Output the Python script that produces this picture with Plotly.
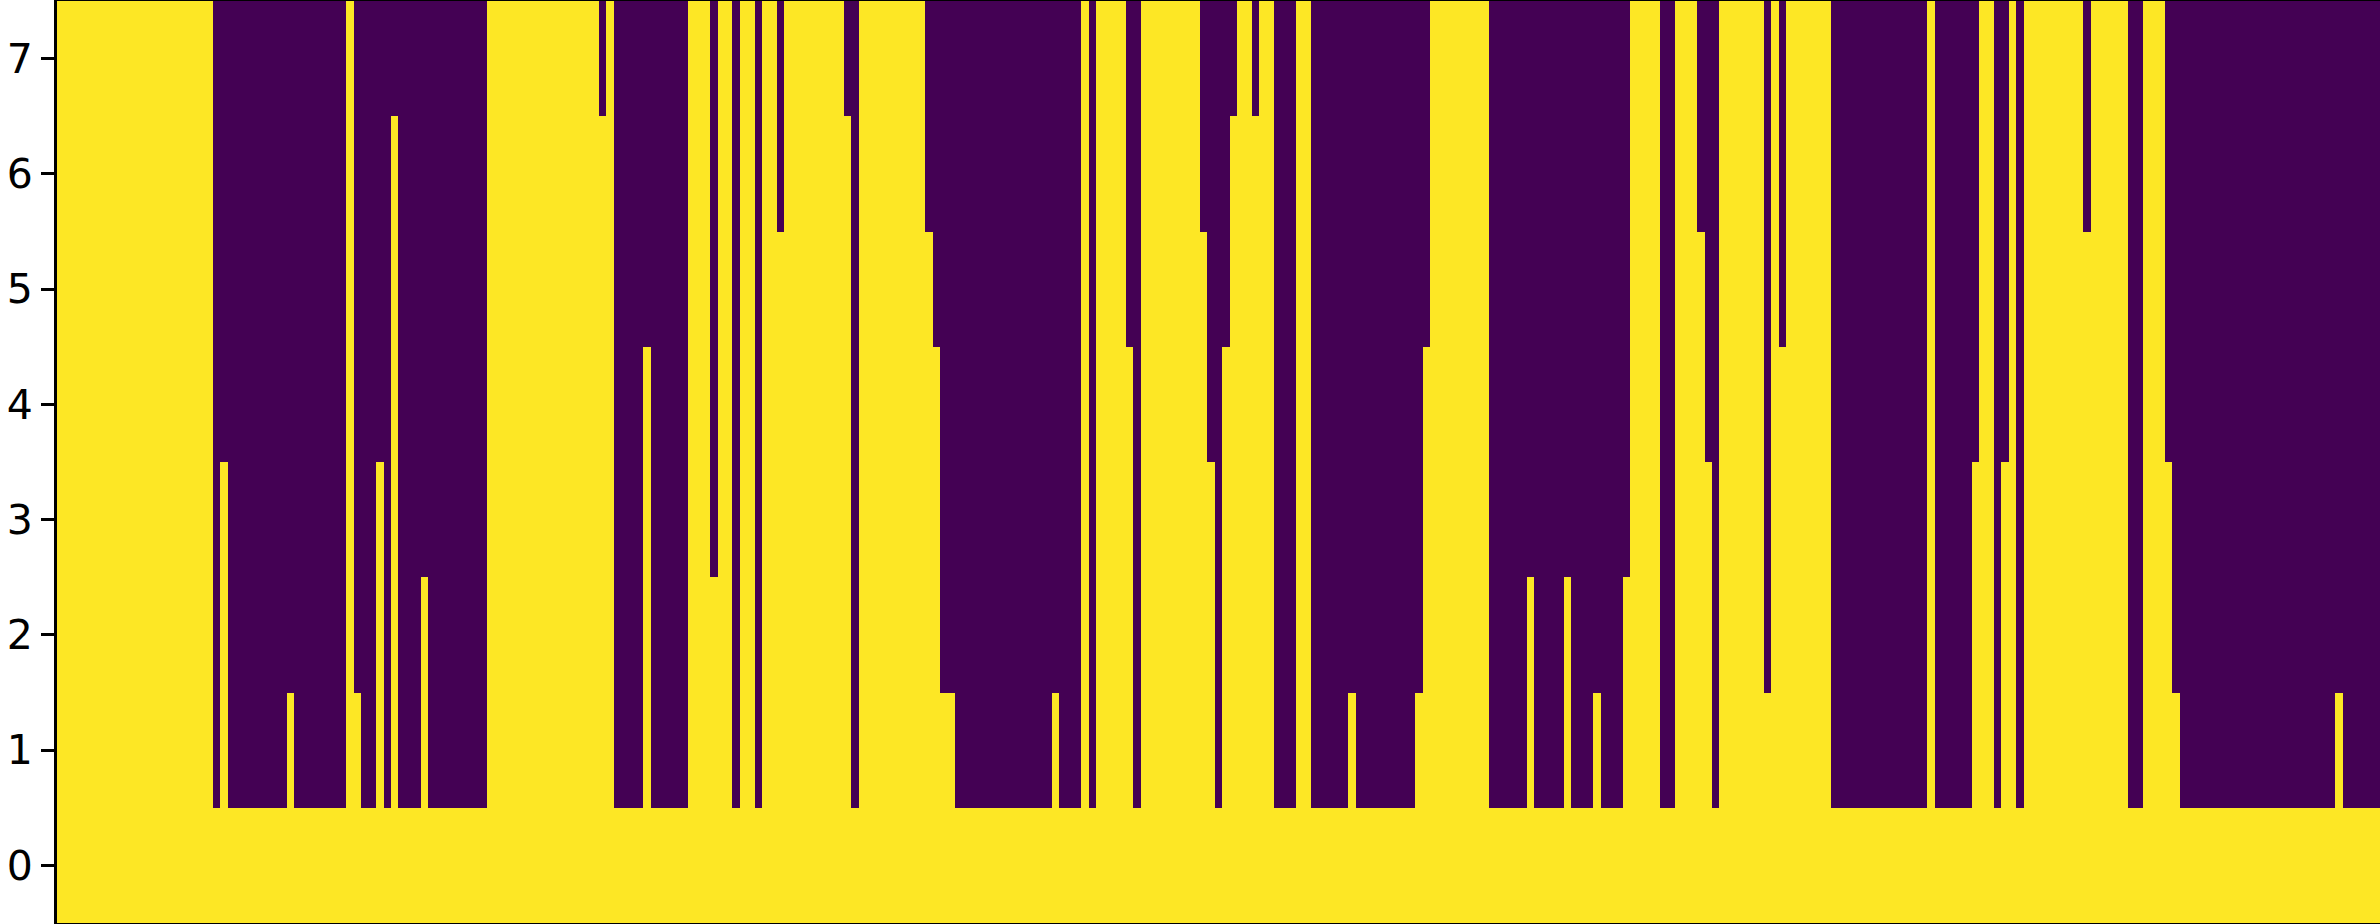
import plotly.graph_objects as go

column_heights = [
    8,8,8,8,8,8,8,8,8,8,8,8,8,8,8,8,8,8,8,8,8,
    1,4,1,1,1,1,1,1,1,1,2,1,1,1,1,1,1,1,8,2,1,1,4,1,7,1,1,1,3,
    1,1,1,1,1,1,1,1,
    8,8,8,8,8,8,8,8,8,8,8,8,8,8,8,7,8,
    1,1,1,1,5,1,1,1,1,1,
    8,8,8,3,8,8,1,8,8,1,8,8,6,8,8,8,8,8,8,8,8,7,1,
    8,8,8,8,8,8,8,8,8,6,5,2,2,
    1,1,1,1,1,1,1,1,1,1,1,1,1,2,1,1,1,8,1,
    8,8,8,8,5,1,8,8,8,8,8,8,8,8,6,4,1,5,7,8,8,7,8,8,
    1,1,1,8,8,1,1,1,1,1,2,1,1,1,1,1,1,1,1,2,5,
    8,8,8,8,8,8,8,8,
    1,1,1,1,1,3,1,1,1,1,3,1,1,1,2,1,1,1,3,
    8,8,8,8,1,1,8,8,8,6,4,1,8,8,8,8,8,8,2,8,5,8,8,8,8,8,8,
    1,1,1,1,1,1,1,1,1,1,1,1,1,8,1,1,1,1,1,4,8,8,1,4,8,1,
    8,8,8,8,8,8,8,8,6,8,8,8,8,8,1,1,8,8,8,4,2,
    1,1,1,1,1,1,1,1,1,1,1,1,1,1,1,1,1,1,1,1,1,2,1,1,1,1,1,
]
row_labels = [0, 1, 2, 3, 4, 5, 6, 7]
cell_values = [[1 if h > r else 0 for h in column_heights] for r in row_labels]

fig = go.Figure(
    go.Heatmap(
        z=cell_values,
        x=list(range(len(column_heights))),
        y=row_labels,
        colorscale=[[0, "#440154"], [1, "#fde725"]],
        zmin=0,
        zmax=1,
        showscale=False,
        xgap=0,
        ygap=0,
        hoverinfo="skip",
    )
)
fig.update_layout(
    width=2380,
    height=924,
    margin=dict(l=57, r=0, t=1, b=1, pad=0, autoexpand=False),
    paper_bgcolor="white",
    plot_bgcolor="white",
    font=dict(family="DejaVu Sans", size=41, color="black"),
    xaxis=dict(
        range=[-0.5, len(column_heights) - 0.5],
        showticklabels=False,
        ticks="",
        showgrid=False,
        zeroline=False,
        showline=True,
        linecolor="black",
        linewidth=3,
        mirror=True,
    ),
    yaxis=dict(
        range=[-0.5, 7.5],
        tickmode="array",
        tickvals=row_labels,
        ticktext=[str(v) for v in row_labels],
        ticks="outside",
        ticklen=13,
        tickwidth=3,
        tickcolor="black",
        showgrid=False,
        zeroline=False,
        showline=True,
        linecolor="black",
        linewidth=3,
        mirror=True,
        automargin=False,
    ),
)
fig.write_html(
    "out.html",
    config={"displayModeBar": False},
    post_script="document.body.style.margin='0';document.body.style.overflow='hidden';",
)
